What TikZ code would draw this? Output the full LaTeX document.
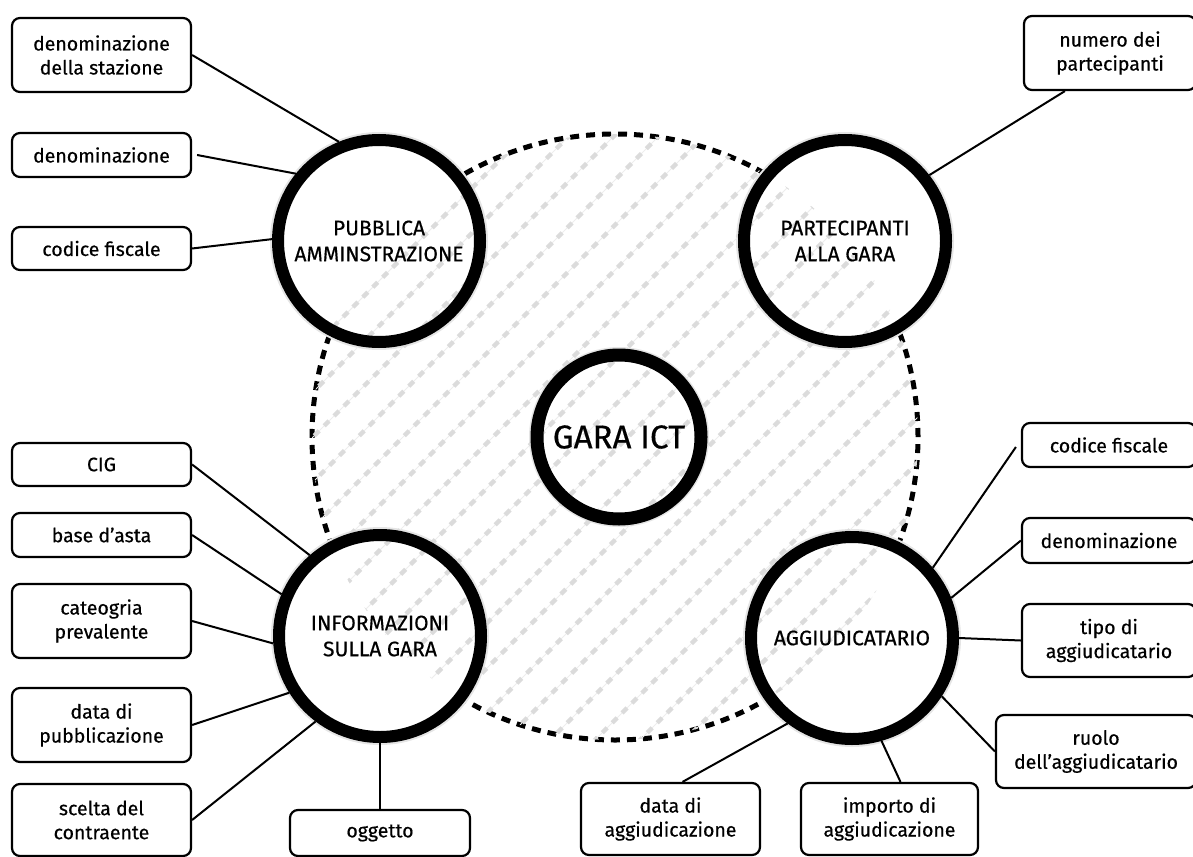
\documentclass[tikz,border=0pt]{standalone}
\usepackage{fontspec}
\setmainfont{Fira Sans}[FakeBold=0.5]
\usetikzlibrary{calc}
\tikzset{
  box/.style={draw, line width=2.2pt, rounded corners=8pt, align=center, inner sep=0pt,
    font=\fontsize{19.5}{24}\selectfont},
  hub/.style={draw, circle, line width=12pt, inner sep=0pt, minimum size=202pt, align=center,
    font=\fontsize{21}{26}\selectfont},
  conn/.style={line width=2pt},
  hatch/.style={black!14, line width=4.5pt, dash pattern=on 7pt off 7pt},
  hatchthin/.style={black!7, line width=1pt},
  bigdash/.style={line width=5pt, dash pattern=on 9pt off 7pt},
  glow/.style={gray!20, line width=16pt}
}
\begin{document}
\begin{tikzpicture}[x=1pt,y=-1pt]
\useasboundingbox (0,0) rectangle (1193,856);
% big dashed circle
\draw[bigdash] (615,437) circle (303pt);
% white fills + glow
\foreach \p in {(379,241),(845,241),(380,636),(852,638)}{
  \draw[glow] \p circle (101pt);
  \fill[white] \p circle (101pt);
}
\draw[glow] (619,437) circle (82pt);
\fill[white] (619,437) circle (82pt);
% hatching
\begin{scope}
  \clip (615,437) circle (303pt);
  \foreach \k in {0,...,45}{
    \draw[hatchthin] (-700+\k*45,1000) -- ++(1100,-1100);
    \draw[hatch] (-700+\k*45,1000) -- ++(1100,-1100);
  }
\end{scope}
% hubs
\node[hub] (pa) at (379,241) {PUBBLICA\\AMMINSTRAZIONE};
\node[hub] (pg) at (845,241) {PARTECIPANTI\\ALLA GARA};
\node[hub] (ig) at (380,636) {INFORMAZIONI\\SULLA GARA};
\node[hub] (ag) at (852,638) {AGGIUDICATARIO};
\node[hub, minimum size=164pt, line width=13pt, font=\fontsize{33}{36}\selectfont] (gara) at (619,437) {GARA ICT};
% boxes left top
\node[box, minimum width=179pt, minimum height=74pt] (b1) at (101.5,55) {denominazione\\della stazione};
\node[box, minimum width=179pt, minimum height=44pt] (b2) at (101.5,155) {denominazione};
\node[box, minimum width=179pt, minimum height=43pt] (b3) at (101.5,248.5) {codice fiscale};
% top right
\node[box, minimum width=172pt, minimum height=74pt] (np) at (1110,53) {numero dei\\partecipanti};
% left bottom
\node[box, minimum width=179pt, minimum height=43pt] (cig) at (101.5,464.5) {CIG};
\node[box, minimum width=179pt, minimum height=44pt] (ba) at (101.5,535) {base d’asta};
\node[box, minimum width=179pt, minimum height=74pt] (cp) at (101.5,621) {cateogria\\prevalente};
\node[box, minimum width=179pt, minimum height=74pt] (dp) at (101.5,725) {data di\\pubblicazione};
\node[box, minimum width=179pt, minimum height=72pt] (sc) at (101.5,820) {scelta del\\contraente};
\node[box, minimum width=180pt, minimum height=46pt] (og) at (380,833) {oggetto};
% right
\node[box, minimum width=174pt, minimum height=44pt] (cf) at (1109,445) {codice fiscale};
\node[box, minimum width=174pt, minimum height=45pt] (dn) at (1109,540.5) {denominazione};
\node[box, minimum width=174pt, minimum height=73pt] (ta) at (1109,640.5) {tipo di\\aggiudicatario};
\node[box, minimum width=200pt, minimum height=73pt] (ra) at (1096,751.5) {ruolo\\dell’aggiudicatario};
\node[box, minimum width=179pt, minimum height=72pt] (da) at (670.5,819) {data di\\aggiudicazione};
\node[box, minimum width=177pt, minimum height=72pt] (ia) at (889.5,819) {importo di\\aggiudicazione};
% connectors
\draw[conn] (b1.east) -- (pa.112);
\draw[conn] ($(b2.east)+(5,0)$) -- (pa.141);
\draw[conn] (b3.east) -- (pa.179.5);
\draw[conn] ($(np.south west)+(42,0)$) -- (pg.38.7);
\draw[conn] (cig.east) -- (ig.131.4);
\draw[conn] (ba.east) -- (ig.157);
\draw[conn] (cp.east) -- (ig.184);
\draw[conn] (dp.east) -- (ig.212.8);
\draw[conn] (sc.east) -- (ig.233.8);
\draw[conn] (og.north) -- (ig.270);
\draw[conn] ($(cf.west)+(-5,2)$) -- (ag.41.2);
\draw[conn] (dn.west) -- (ag.22.3);
\draw[conn] (ta.west) -- (ag.0);
\draw[conn] (ra.west) -- (ag.-33.7);
\draw[conn] ($(da.north)+(12,0)$) -- (ag.233.7);
\draw[conn] ($(ia.north)+(11,0)$) -- (ag.-74);
\end{tikzpicture}
\end{document}
